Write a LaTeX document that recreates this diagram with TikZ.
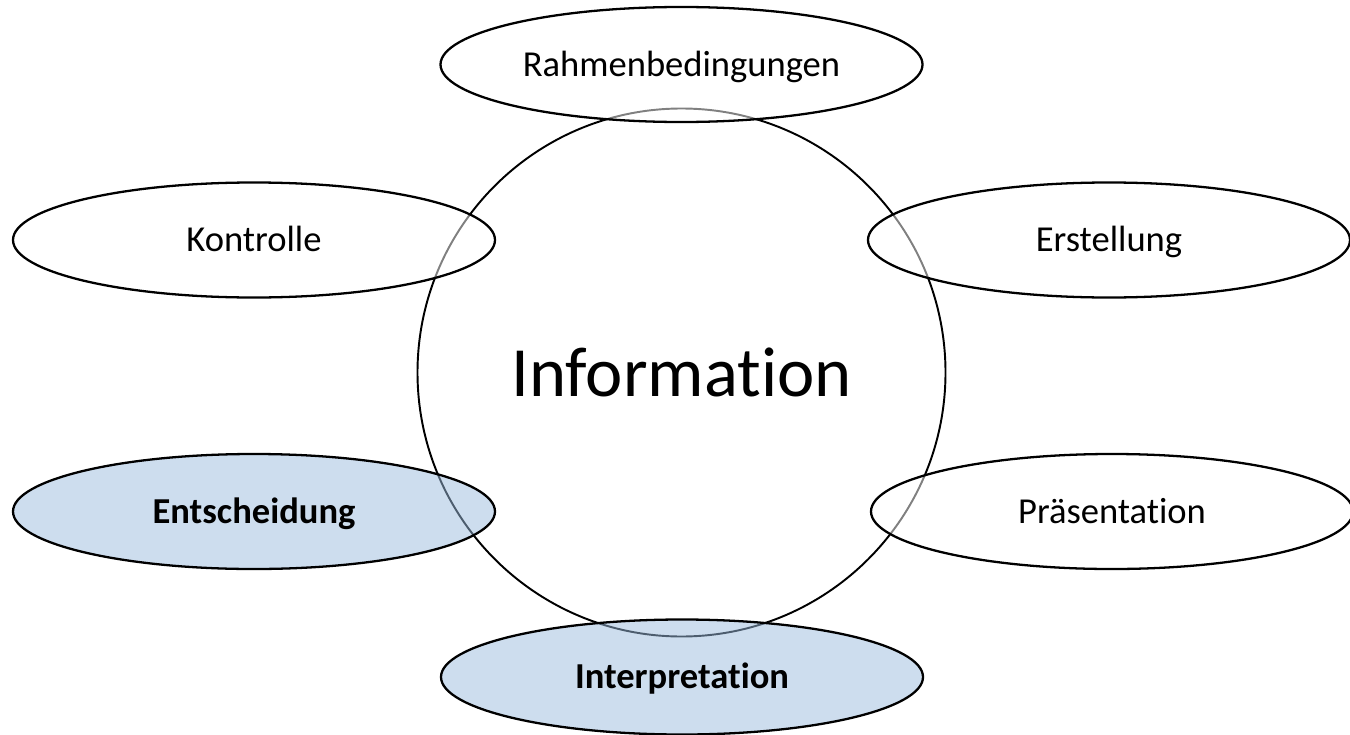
\documentclass[tikz,border=0pt]{standalone}
\usepackage{fontspec}
\setmainfont{Carlito}[Ligatures=NoCommon]
\usetikzlibrary{shapes.geometric}
\definecolor{lightblue}{RGB}{155,187,221}

\begin{document}
\begin{tikzpicture}[
  stage/.style={ellipse, draw=black, line width=1.3pt, fill=white, fill opacity=0.5, text opacity=1,
    minimum width=9.64cm, minimum height=2.3cm, inner sep=0pt, text height=0.47cm, text depth=0pt,
    font=\fontsize{20.8}{24}\selectfont},
  marked/.style={stage, fill=lightblue, font=\fontsize{20.8}{24}\selectfont\bfseries}]
\useasboundingbox (0,0) rectangle (27,14.68);

% big circle in the middle
\node[circle, draw=black, line width=1.1pt, minimum size=10.56cm, inner sep=0pt,
  font=\fontsize{40.2}{48}\selectfont] (info) at (13.63,7.23) {Information};

% ellipses round the circle
\node[stage] (rahmen) at (13.63,13.39) {Rahmenbedingungen};
\node[stage] (kontrolle) at (5.08,9.88) {Kontrolle};
\node[stage] (erstellung) at (22.18,9.88) {Erstellung};
\node[marked] (entscheidung) at (5.08,4.45) {Entscheidung};
\node[stage] (praesentation) at (22.24,4.45) {Präsentation};
\node[marked] (interpretation) at (13.64,1.14) {Interpretation};
\end{tikzpicture}
\end{document}
